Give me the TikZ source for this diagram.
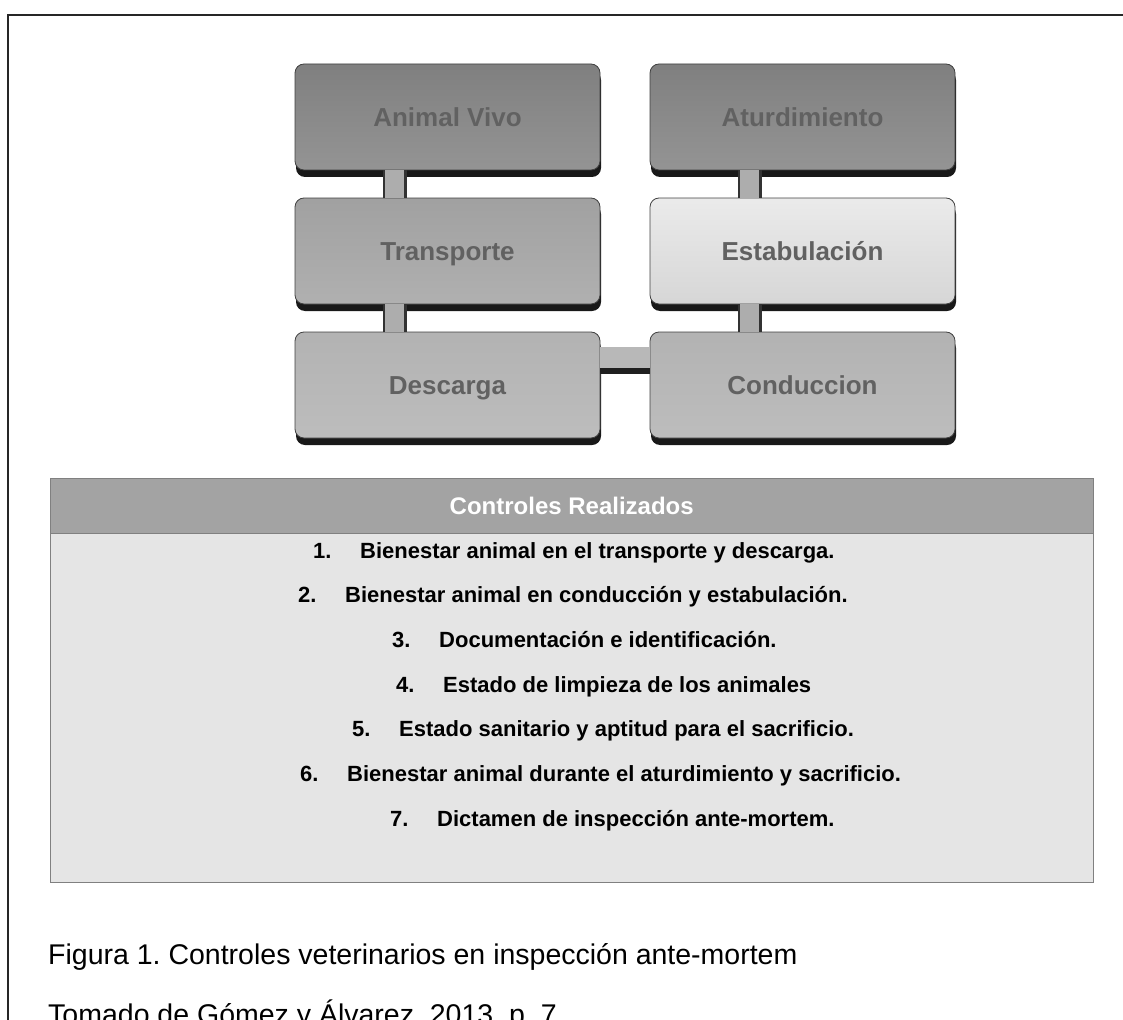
\documentclass[tikz,border=0pt]{standalone}
\usepackage{fontspec}
\setmainfont{Liberation Sans}
\usetikzlibrary{shadows}
\frenchspacing
\begin{document}
\begin{tikzpicture}[x=1pt,y=-1pt,
  stagebox/.style={rounded corners=9pt, minimum width=305pt, minimum height=106pt,
    draw=black!75, line width=0.8pt, inner sep=0pt, text height=19pt, text depth=0pt,
    font=\fontsize{26}{30}\selectfont\bfseries, text=black!62,
    general shadow={fill=black!90, shadow xshift=1pt, shadow yshift=-7pt}},
  darkstage/.style={stagebox, top color=black!50, bottom color=black!42},
  midstage/.style={stagebox, top color=black!37, bottom color=black!31},
  lowstage/.style={stagebox, top color=black!30, bottom color=black!26},
  palestage/.style={stagebox, top color=black!8, bottom color=black!16},
  vlink/.style={draw=black!80, line width=2.5pt, double=black!32, double distance=19pt},
  rownum/.style={anchor=base west, inner sep=0pt, font=\fontsize{22}{26}\selectfont\bfseries},
  rowtext/.style={anchor=base west, inner sep=0pt, font=\fontsize{22}{26}\selectfont\bfseries},
  caption/.style={anchor=base west, inner sep=0pt, font=\fontsize{28.5}{33}\selectfont}
]
\useasboundingbox (0,0) rectangle (1123,1019);

% page frame
\draw[line width=2pt, black!85] (8,1025) -- (8,15) -- (1125,15);

% stages of the process
\node[darkstage]  (av)  at (447.5,117) {Animal Vivo};
\node[midstage]   (tr)  at (447.5,251) {Transporte};
\node[lowstage]   (des) at (447.5,385) {Descarga};
\node[darkstage]  (atu) at (802.5,117) {Aturdimiento};
\node[palestage]  (est) at (802.5,251) {Estabulación};
\node[lowstage]   (con) at (802.5,385) {Conduccion};

% links between stages
\draw[vlink] ([xshift=-53pt]av.south)  -- ([xshift=-53pt]tr.north);
\draw[vlink] ([xshift=-53pt]tr.south)  -- ([xshift=-53pt]des.north);
\draw[vlink] ([xshift=-53pt]atu.south) -- ([xshift=-53pt]est.north);
\draw[vlink] ([xshift=-53pt]est.south) -- ([xshift=-53pt]con.north);
\fill[black!28] ([yshift=38pt]des.east) rectangle ([yshift=17pt]con.west);
\draw[line width=6pt, black!88] ([yshift=14pt]des.east) -- ([yshift=14pt]con.west);

% table of controls
\node[draw=black!50, fill=black!36, minimum width=1043pt, minimum height=55pt,
      inner sep=0pt, anchor=north west,
      font=\fontsize{24}{28}\selectfont\bfseries, text=white] (head) at (50,478)
      {Controles Realizados};
\node[draw=black!50, fill=black!10, minimum width=1043pt, minimum height=349pt,
      inner sep=0pt, anchor=north west] (body) at (head.south west) {};

\foreach \k/\nx/\txt in {
  1/313/Bienestar animal en el transporte y descarga.,
  2/298/Bienestar animal en conducción y estabulación.,
  3/392/Documentación e identificación.,
  4/396/Estado de limpieza de los animales,
  5/352/Estado sanitario y aptitud para el sacrificio.,
  6/300/Bienestar animal durante el aturdimiento y sacrificio.,
  7/390/Dictamen  de inspección ante-mortem.} {
  \node[rownum] (n\k) at (\nx,{558+44.7*(\k-1)}) {\k.};
  \node[rowtext] (t\k) at ([xshift=47pt]n\k.base west) {\txt};
}

% caption
\node[caption] (cap1) at (48,964) {Figura 1. Controles veterinarios en inspección ante-mortem};
\node[caption] (cap2) at (48,1024) {Tomado de Gómez y Álvarez, 2013, p. 7};
\end{tikzpicture}
\end{document}
